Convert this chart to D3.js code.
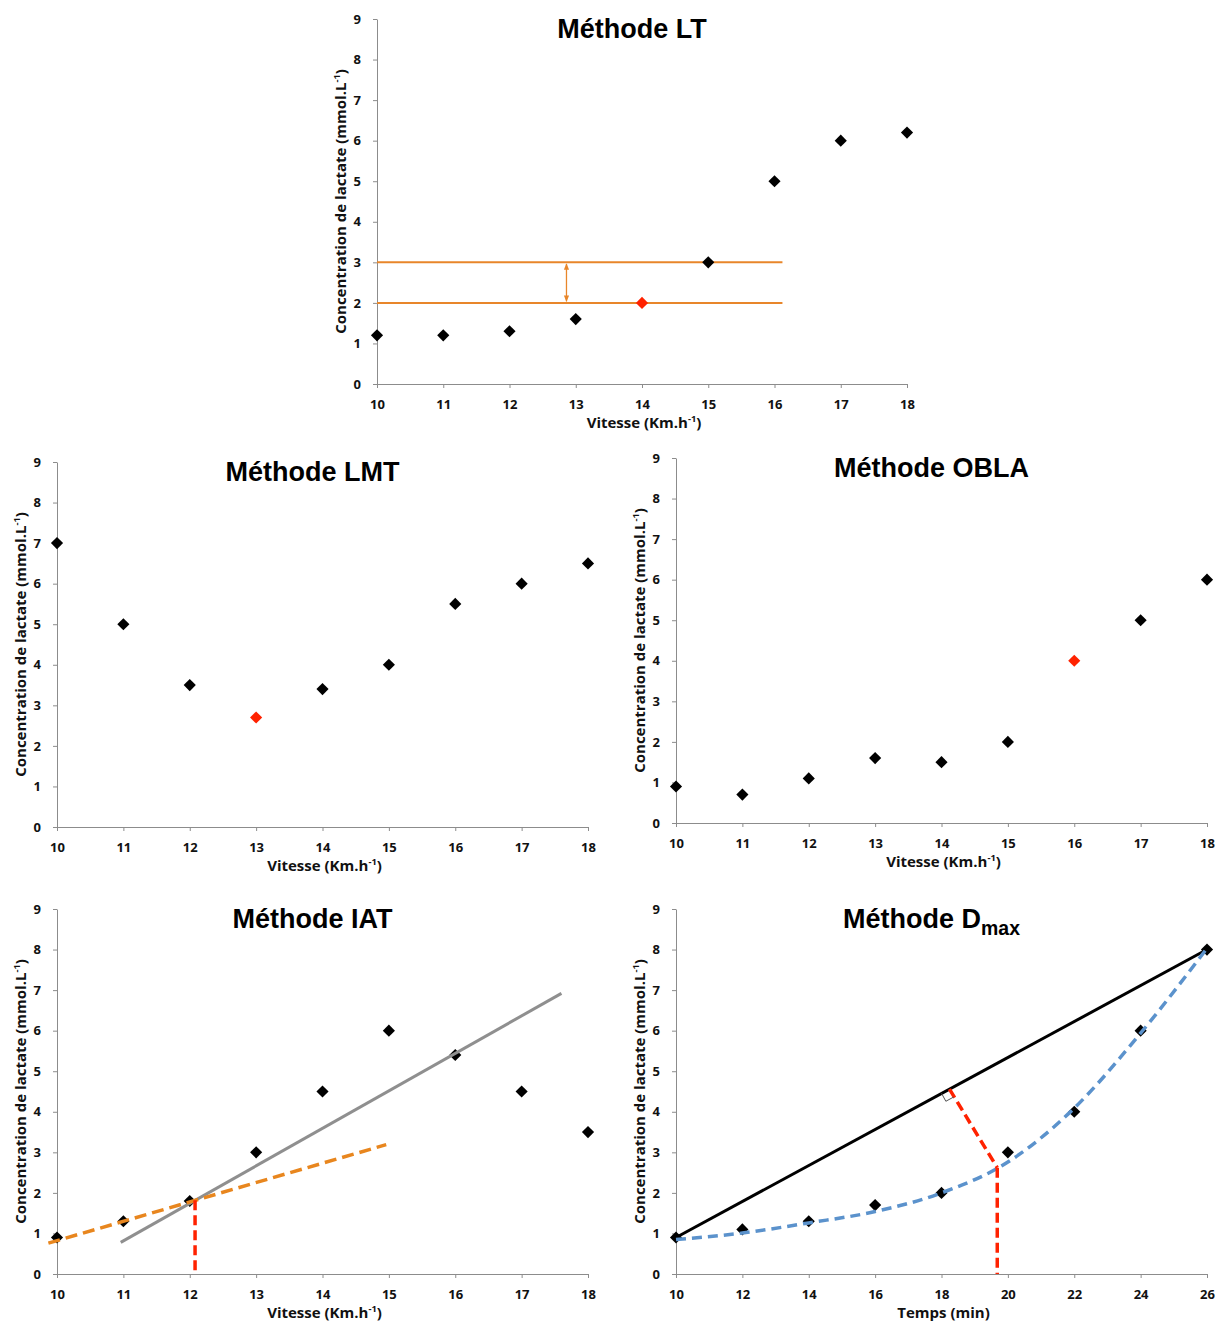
<!DOCTYPE html>
<html>
<head>
<meta charset="utf-8">
<script src="https://cdn.jsdelivr.net/npm/d3@7"></script>
<style>
  body { margin: 0; background: #fff; }
  svg { display: block; font-family: "Open Sans", sans-serif; }
  .axis path, .axis line { stroke: #8c8c8c; stroke-width: 1; }
  .axis text { font-family: "Open Sans", sans-serif; font-weight: 700; font-size: 13px; fill: #111; }
  .axis-title { font-weight: 700; font-size: 15px; fill: #111; }
  .chart-title { font-family: "Liberation Sans", Arial, sans-serif; font-weight: 700; font-size: 27px; fill: #000; }
</style>
</head>
<body>
<svg width="1216" height="1322"></svg>
<script>
// Data
const vitesse = [10, 11, 12, 13, 14, 15, 16, 17, 18];
const temps = [10, 12, 14, 16, 18, 20, 22, 24, 26];
const yTicks = [0, 1, 2, 3, 4, 5, 6, 7, 8, 9];

const lactateLT = [1.2, 1.2, 1.3, 1.6, 2.0, 3.0, 5.0, 6.0, 6.2];
const lactateLMT = [7.0, 5.0, 3.5, 2.7, 3.4, 4.0, 5.5, 6.0, 6.5];
const lactateOBLA = [0.9, 0.7, 1.1, 1.6, 1.5, 2.0, 4.0, 5.0, 6.0];
const lactateIAT = [0.9, 1.3, 1.8, 3.0, 4.5, 6.0, 5.4, 4.5, 3.5];
const lactateDmax = [0.9, 1.1, 1.3, 1.7, 2.0, 3.0, 4.0, 6.0, 8.0];

// highlighted (red) point, as index in the series
const seuilLT = 4;
const seuilLMT = 3;
const seuilOBLA = 6;

// annotations
const ltLevels = [2, 3];
const ltLevelEnd = 16.12;
const ltArrowX = 12.86;
const iatOrange = [[9.87, 0.76], [14.96, 3.19]];
const iatGray = [[10.96, 0.78], [17.6, 6.92]];
const iatDrop = [[12.08, 1.82], [12.08, 0]];
const dmaxChord = [[10, 0.9], [26, 8.0]];
const dmaxFitX = [10, 12, 14, 16, 18, 20, 22, 24, 26];
const dmaxFitY = [0.85, 1.01, 1.26, 1.54, 2.0, 2.76, 4.09, 5.94, 8.03];
const dmaxPerp = [[18.24, 4.56], [19.68, 2.62]];
const dmaxDrop = [[19.68, 2.62], [19.68, 0]];

// Layout
const boxes = {
  LT:   { left: 377, top: 19,  width: 530, height: 365 },
  LMT:  { left: 57,  top: 462, width: 531, height: 365 },
  OBLA: { left: 676, top: 458, width: 531, height: 365 },
  IAT:  { left: 57,  top: 909, width: 531, height: 365 },
  Dmax: { left: 676, top: 909, width: 531, height: 365 }
};

const svg = d3.select('svg');
const red = '#ff2200';

function addTitle(textSel, main, sub, sup) {
  textSel.append('tspan').text(main);
  if (sub) textSel.append('tspan').attr('baseline-shift', '-35%').attr('font-size', '0.72em').text(sub);
  if (sup) {
    textSel.append('tspan').attr('baseline-shift', 'super').attr('font-size', '0.62em').text(sup);
    textSel.append('tspan').text(')');
  }
}

function makePanel(box, xTicks, title, titleSub, xTitle, xSup) {
  const g = svg.append('g').attr('transform', `translate(${box.left},${box.top})`);
  const x = d3.scaleLinear().domain(d3.extent(xTicks)).range([0, box.width]);
  const y = d3.scaleLinear().domain([0, 9]).range([box.height, 0]);

  g.append('g').attr('class', 'axis')
    .attr('transform', `translate(0,${box.height})`)
    .call(d3.axisBottom(x).tickValues(xTicks).tickFormat(d3.format('d'))
      .tickSize(4).tickSizeOuter(0).tickPadding(12));
  g.append('g').attr('class', 'axis')
    .call(d3.axisLeft(y).tickValues(yTicks).tickFormat(d3.format('d'))
      .tickSize(4).tickSizeOuter(0).tickPadding(12));

  // chart title
  const t = g.append('text').attr('class', 'chart-title')
    .attr('x', box.width / 2 - 10).attr('y', 19).attr('text-anchor', 'middle');
  addTitle(t, title, titleSub);

  // x axis title
  const xt = g.append('text').attr('class', 'axis-title')
    .attr('x', box.width / 2 + 2).attr('y', box.height + 44).attr('text-anchor', 'middle');
  addTitle(xt, xTitle, null, xSup);

  // y axis title
  const yt = g.append('text').attr('class', 'axis-title')
    .attr('transform', 'rotate(-90)')
    .attr('x', -box.height / 2).attr('y', -31).attr('text-anchor', 'middle');
  addTitle(yt, 'Concentration de lactate (mmol.L', null, '-1');

  return { g, x, y };
}

function drawPoints(p, xs, ys, highlight) {
  const pts = xs.map((d, i) => ({ x: d, y: ys[i], hi: i === highlight }));
  p.g.append('g').selectAll('path')
    .data(pts)
    .join('path')
    .attr('d', d3.symbol().type(d3.symbolSquare).size(74))
    .attr('transform', d => `translate(${p.x(d.x)},${p.y(d.y)}) rotate(45)`)
    .attr('fill', d => d.hi ? red : '#000');
}

function drawLine(p, pts, stroke, width, dash) {
  const line = d3.line().x(d => p.x(d[0])).y(d => p.y(d[1]));
  return p.g.append('path').datum(pts)
    .attr('d', line)
    .attr('fill', 'none')
    .attr('stroke', stroke)
    .attr('stroke-width', width)
    .attr('stroke-dasharray', dash || null);
}

// arrow marker for LT
const defs = svg.append('defs');
defs.append('marker').attr('id', 'arr')
  .attr('viewBox', '0 0 10 10').attr('refX', 9).attr('refY', 5)
  .attr('markerWidth', 5).attr('markerHeight', 5)
  .attr('orient', 'auto-start-reverse')
  .append('path').attr('d', 'M0,1 L10,5 L0,9 Z').attr('fill', '#e8862a');

// Méthode LT
const lt = makePanel(boxes.LT, vitesse, 'Méthode LT', null, 'Vitesse (Km.h', '-1');
ltLevels.forEach(v => drawLine(lt, [[10, v], [ltLevelEnd, v]], '#e8862a', 2));
drawLine(lt, [[ltArrowX, ltLevels[0] + 0.04], [ltArrowX, ltLevels[1] - 0.04]], '#e8862a', 1.3)
  .attr('marker-start', 'url(#arr)').attr('marker-end', 'url(#arr)');
drawPoints(lt, vitesse, lactateLT, seuilLT);

// Méthode LMT
const lmt = makePanel(boxes.LMT, vitesse, 'Méthode LMT', null, 'Vitesse (Km.h', '-1');
drawPoints(lmt, vitesse, lactateLMT, seuilLMT);

// Méthode OBLA
const obla = makePanel(boxes.OBLA, vitesse, 'Méthode OBLA', null, 'Vitesse (Km.h', '-1');
drawPoints(obla, vitesse, lactateOBLA, seuilOBLA);

// Méthode IAT
const iat = makePanel(boxes.IAT, vitesse, 'Méthode IAT', null, 'Vitesse (Km.h', '-1');
drawPoints(iat, vitesse, lactateIAT, -1);
drawLine(iat, iatGray, '#8f8f8f', 3);
drawLine(iat, iatOrange, '#e8861e', 3.5, '12,6');
drawLine(iat, iatDrop, red, 3.5, '10,5');

// Méthode Dmax
const dm = makePanel(boxes.Dmax, temps, 'Méthode D', 'max', 'Temps (min)', null);
drawLine(dm, dmaxChord, '#000', 3);
drawPoints(dm, temps, lactateDmax, -1);
const fitLine = d3.line().curve(d3.curveMonotoneX).x(d => dm.x(d[0])).y(d => dm.y(d[1]));
dm.g.append('path').datum(dmaxFitX.map((d, i) => [d, dmaxFitY[i]]))
  .attr('d', fitLine).attr('fill', 'none')
  .attr('stroke', '#5b92cc').attr('stroke-width', 3.5).attr('stroke-dasharray', '10,6');
drawLine(dm, dmaxPerp, red, 3.5, '10,5');
drawLine(dm, dmaxDrop, red, 3.5, '10,5');

// right-angle mark at the foot of the perpendicular
{
  const ax = dm.x(dmaxChord[1][0]) - dm.x(dmaxChord[0][0]);
  const ay = dm.y(dmaxChord[1][1]) - dm.y(dmaxChord[0][1]);
  const len = Math.hypot(ax, ay);
  const u = [ax / len, ay / len];
  const n = [-u[1], u[0]];
  const s = 9;
  const fx = dm.x(dmaxPerp[0][0]), fy = dm.y(dmaxPerp[0][1]);
  const pts = [
    [fx - s * u[0], fy - s * u[1]],
    [fx - s * u[0] + s * n[0], fy - s * u[1] + s * n[1]],
    [fx + s * n[0], fy + s * n[1]]
  ];
  dm.g.append('path')
    .attr('d', d3.line()(pts))
    .attr('fill', 'none').attr('stroke', '#555').attr('stroke-width', 1);
}
</script>
</body>
</html>
